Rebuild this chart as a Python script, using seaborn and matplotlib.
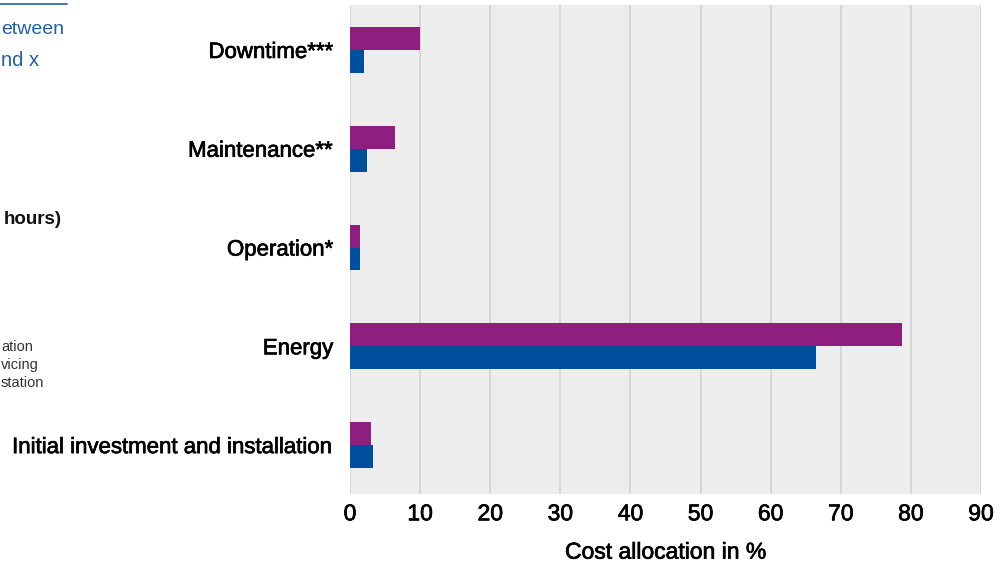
"""Cost allocation per category, horizontal grouped bars."""
import matplotlib
matplotlib.use('Agg')
import matplotlib.pyplot as plt
import matplotlib.lines as mlines
import matplotlib.patheffects as pe
import pandas as pd
import seaborn as sns

# data
categories = ['Downtime***', 'Maintenance**', 'Operation*', 'Energy',
              'Initial investment and installation']
series_names = ['Series 1', 'Series 2']
series_1 = [10.0, 6.4, 1.4, 78.8, 3.0]   # purple (upper bar)
series_2 = [2.0, 2.4, 1.4, 66.4, 3.3]    # blue (lower bar)
x_ticks = [0, 10, 20, 30, 40, 50, 60, 70, 80, 90]

W, H = 1007, 564

sns.set_theme(style='white')
plt.rcParams['font.family'] = ['Liberation Sans', 'DejaVu Sans']

df = pd.DataFrame({
    'category': categories * 2,
    'series': [series_names[0]] * len(categories) + [series_names[1]] * len(categories),
    'value': series_1 + series_2,
})

# thin stroke to imitate the medium weight of the original font
medium = [pe.withStroke(linewidth=0.5, foreground='#000000')]

fig = plt.figure(figsize=(W / 100, H / 100), dpi=100)
ax = fig.add_axes([350 / W, 1 - 494 / H, (981 - 350) / W, (494 - 5) / H])
ax.set_facecolor('#ededed')

sns.barplot(data=df, x='value', y='category', hue='series',
            hue_order=series_names, order=categories, orient='h',
            palette=['#8f1f7e', '#004f9c'], width=0.465, saturation=1,
            linewidth=0, legend=False, ax=ax, zorder=3)

ax.set_xlim(0, 90)
ax.set_ylim(4.495, -0.455)
ax.set_xticks(x_ticks)
ax.set_xticklabels([str(t) for t in x_ticks], fontsize=16.5, color='#000000')
ax.tick_params(axis='x', length=0, pad=6)
ax.tick_params(axis='y', length=0, pad=12, labelsize=16, labelcolor='#000000')
for lbl in ax.get_xticklabels() + ax.get_yticklabels():
    lbl.set_path_effects(medium)
ax.grid(axis='x', color='#d2d2d2', linewidth=1.2, zorder=0)
ax.grid(axis='y', visible=False)
for spine in ax.spines.values():
    spine.set_visible(False)
ax.set_ylabel('')
ax.set_xlabel('Cost allocation in %', fontsize=16.5, color='#000000', labelpad=11,
              path_effects=medium)

# fragments of the neighbouring panel cut off at the left edge
blue_txt = '#1f5faa'
fig.add_artist(mlines.Line2D([0, 67 / W], [1 - 4 / H, 1 - 4 / H],
                             color=blue_txt, linewidth=1.2))
fig.text(1 / W, 1 - 30 / H, 'etween', ha='left', va='center',
         fontsize=14, color=blue_txt)
fig.text(1 / W, 1 - 61 / H, 'nd x', ha='left', va='center',
         fontsize=14.5, color=blue_txt)
fig.text(62 / W, 1 - 220 / H, 'hours)', ha='right', va='center',
         fontsize=13.5, fontweight='bold', color='#111111')
fig.text(1 / W, 1 - 347 / H, 'ation', ha='left', va='center',
         fontsize=10.5, color='#333333')
fig.text(1 / W, 1 - 365 / H, 'vicing', ha='left', va='center',
         fontsize=10.5, color='#333333')
fig.text(1 / W, 1 - 383 / H, 'station', ha='left', va='center',
         fontsize=10.5, color='#333333')

fig.savefig('out.png', dpi=100)
plt.close(fig)
